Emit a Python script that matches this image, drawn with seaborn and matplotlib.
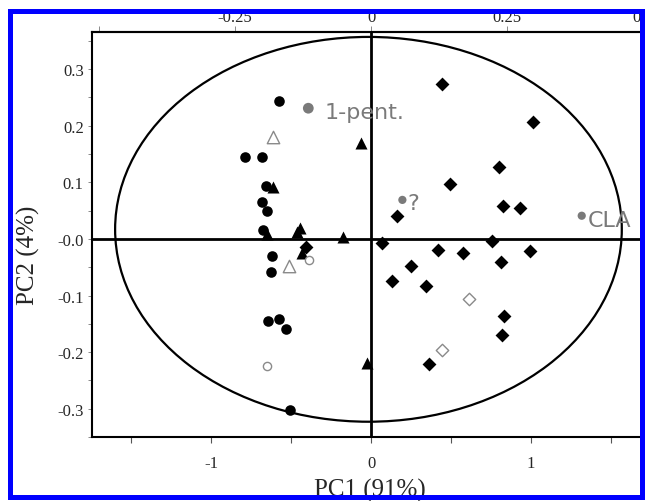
import numpy as np
import pandas as pd
import matplotlib
matplotlib.use('Agg')
import matplotlib.pyplot as plt
import seaborn as sns
from matplotlib.patches import Ellipse, Rectangle

# PCA scores (PC1, PC2)
circle_pc1 = [-0.575, -0.788, -0.681, -0.656, -0.683, -0.652, -0.677, -0.621, -0.625, -0.642, -0.575, -0.533, -0.506]
circle_pc2 = [0.244, 0.145, 0.144, 0.094, 0.065, 0.049, 0.015, -0.030, -0.059, -0.145, -0.141, -0.159, -0.302]

triangle_pc1 = [-0.610, -0.652, -0.444, -0.460, -0.177, -0.433, -0.060, -0.027]
triangle_pc2 = [0.091, 0.009, 0.019, 0.012, 0.003, -0.025, 0.169, -0.220]

diamond_pc1 = [-0.406, 0.446, 1.010, 0.800, 0.494, 0.165, 0.823, 0.929, 0.067, 0.758,
               0.419, 0.575, 0.994, 0.250, 0.810, 0.129, 0.344, 0.831, 0.819, 0.365]
diamond_pc2 = [-0.014, 0.274, 0.207, 0.128, 0.097, 0.040, 0.059, 0.054, -0.007, -0.003,
               -0.019, -0.025, -0.022, -0.047, -0.041, -0.075, -0.084, -0.137, -0.169, -0.221]

open_circle_pc1 = [-0.385, -0.652]
open_circle_pc2 = [-0.037, -0.224]
open_triangle_pc1 = [-0.614, -0.512]
open_triangle_pc2 = [0.181, -0.047]
open_diamond_pc1 = [0.613, 0.444]
open_diamond_pc2 = [-0.106, -0.196]

# named loadings drawn in grey
named_labels = ['1-pent.', '?', 'CLA']
named_pc1 = [-0.392, 0.196, 1.317]
named_pc2 = [0.231, 0.069, 0.041]

x_ticks = [-1.5, -1, -0.5, 0, 0.5, 1, 1.5]
x_ticklabels = ['', '-1', '', '0', '', '1', '']
y_ticks = [0.3, 0.2, 0.1, 0.0, -0.1, -0.2, -0.3]
y_ticklabels = ['0.3', '0.2', '0.1', '-0.0', '-0.1', '-0.2', '-0.3']
top_ticks = [-0.5, -0.25, 0, 0.25, 0.5]
top_ticklabels = ['', '-0.25', '0', '0.25', '0.5']

sns.set_style('white')
plt.rcParams['font.family'] = ['Liberation Serif', 'DejaVu Serif']
plt.rcParams['axes.unicode_minus'] = False

groups = [
    ('circle', circle_pc1, circle_pc2),
    ('triangle', triangle_pc1, triangle_pc2),
    ('diamond', diamond_pc1, diamond_pc2),
    ('open circle', open_circle_pc1, open_circle_pc2),
    ('open triangle', open_triangle_pc1, open_triangle_pc2),
    ('open diamond', open_diamond_pc1, open_diamond_pc2),
]
scores_df = pd.concat([pd.DataFrame({'PC1': x, 'PC2': y, 'group': g}) for g, x, y in groups],
                      ignore_index=True)

styles = {
    'circle': dict(marker='o', s=58, color='black', edgecolor='black', linewidth=0),
    'triangle': dict(marker='^', s=75, color='black', edgecolor='black', linewidth=0),
    'diamond': dict(marker='D', s=50, color='black', edgecolor='black', linewidth=0),
    'open circle': dict(marker='o', s=35, color='white', edgecolor='#8a8a8a', linewidth=1),
    'open triangle': dict(marker='^', s=80, color='white', edgecolor='#8a8a8a', linewidth=1),
    'open diamond': dict(marker='D', s=40, color='white', edgecolor='#8a8a8a', linewidth=1),
}

fig = plt.figure(figsize=(6.45, 5.02), dpi=100)
ax = fig.add_axes([92 / 645, 1 - 438 / 502, 563 / 645, 405 / 502])

# confidence ellipse and centre lines
ax.add_patch(Ellipse((-0.016, 0.017), 3.167, 0.68, fill=False, edgecolor='black', lw=1.6, zorder=1))
ax.axhline(0, color='black', lw=2, zorder=1)
ax.axvline(0, color='black', lw=2, zorder=1)

for g, kw in styles.items():
    sns.scatterplot(data=scores_df[scores_df['group'] == g], x='PC1', y='PC2', ax=ax,
                    legend=False, zorder=3, **kw)

named_df = pd.DataFrame({'label': named_labels, 'PC1': named_pc1, 'PC2': named_pc2})
sizes = [60, 35, 35]
offsets = [(16, -4), (5, -3), (6, -4)]
sns.scatterplot(data=named_df, x='PC1', y='PC2', ax=ax, s=sizes, color='#7a7a7a',
                linewidth=0, legend=False, zorder=3)
for i, row in named_df.iterrows():
    ax.annotate(row['label'], (row['PC1'], row['PC2']), xytext=offsets[i],
                textcoords='offset pixels', ha='left', va='center', fontsize=16,
                color='#7a7a7a', family='DejaVu Sans', zorder=4)

ax.set_xlim(-1.744, 1.775)
ax.set_ylim(-0.3498, 0.3657)
ax.set_xticks(x_ticks)
ax.set_xticklabels(x_ticklabels)
ax.set_yticks(y_ticks)
ax.set_yticklabels(y_ticklabels)
ax.set_yticks(np.arange(-0.35, 0.36, 0.05), minor=True)
ax.tick_params(axis='x', which='major', direction='out', length=4, width=0.8,
               pad=9, labelsize=12, bottom=True, color='#555555')
ax.tick_params(axis='y', which='both', direction='out', length=3, width=0.6,
               pad=3, labelsize=12, left=True, color='#777777')
for s in ax.spines.values():
    s.set_linewidth(1.5)
    s.set_color('black')

# loadings scale on the top axis
k = 0.294
secax = ax.secondary_xaxis('top', functions=(lambda x: x * k, lambda x: x / k))
secax.set_xticks(top_ticks)
secax.set_xticklabels(top_ticklabels)
secax.tick_params(direction='out', length=4, width=0.6, pad=1, labelsize=12, color='#777777')
secax.spines['top'].set_linewidth(1.5)

ax.set_xlabel('PC1 (91%)', fontsize=18)
ax.set_ylabel('PC2 (4%)', fontsize=18)
ax.xaxis.label.set_va('center')
ax.yaxis.label.set_va('center')
ax.xaxis.set_label_coords(0.494, -0.13)
ax.yaxis.set_label_coords(-0.112, 0.45)

# blue frame around the figure
fig.add_artist(Rectangle((9.5 / 645, 1 - 498 / 502), (642 - 9.5) / 645, (498 - 12) / 502,
                         transform=fig.transFigure, fill=False, edgecolor='#0000ff',
                         lw=3.6, zorder=10))

plt.savefig('out.png', dpi=100)
plt.close()
